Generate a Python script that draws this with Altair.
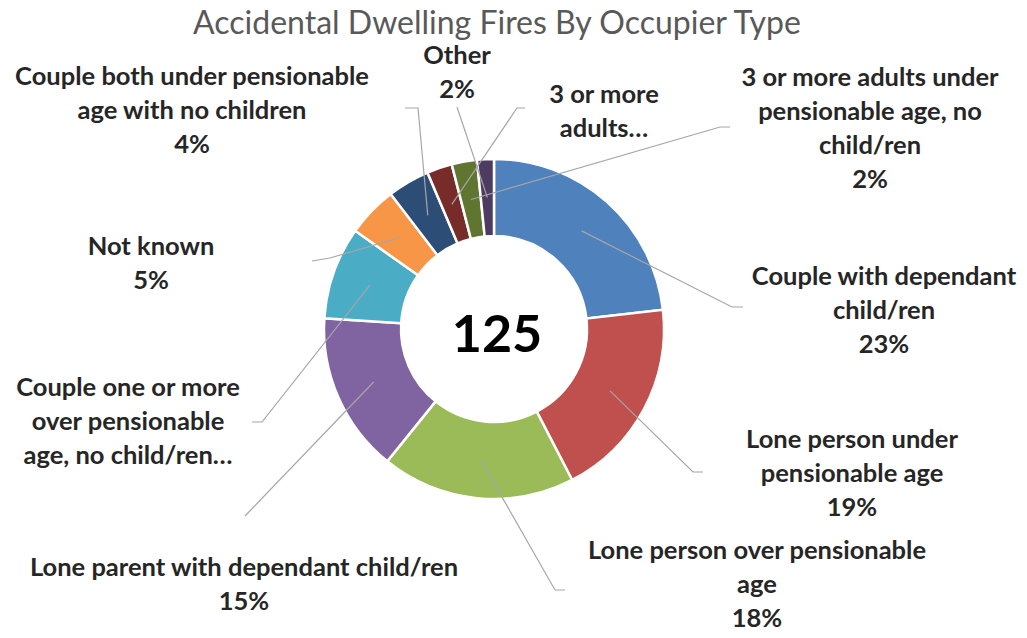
import math
import altair as alt
import pandas as pd

# ---------------- data ----------------
label_lines = [
    ["Couple with dependant", "child/ren"],
    ["Lone person under", "pensionable age"],
    ["Lone person over pensionable", "age"],
    ["Lone parent with dependant child/ren"],
    ["Couple one or more", "over pensionable", "age, no child/ren…"],
    ["Not known"],
    ["Couple both under pensionable", "age with no children"],
    ["3 or more", "adults…"],
    ["3 or more adults under", "pensionable age, no", "child/ren"],
    ["Other"],
]
show_pct = [True, True, True, True, False, True, True, False, True, True]
counts = [29, 24, 23, 19, 11, 6, 5, 3, 3, 2]
colors = ["#4F81BD", "#C0504D", "#9BBB59", "#8064A2", "#4BACC6",
          "#F79646", "#2C4D75", "#772C2A", "#5F7530", "#4D3B62"]
title_text = "Accidental Dwelling Fires By Occupier Type"

# ---------------- layout ----------------
W, H = 1011, 622
CX, CY = 486, 321
R_IN, R_OUT = 93, 170
# centre of the first line of each label
label_pos = [(876, 269), (844, 432), (749, 543), (236, 560), (120, 380),
             (143, 239), (184, 69), (596, 87), (862, 70), (449, 48)]
leader_pts = [
    [(724, 299), (735, 299)],
    [(685, 464), (695, 464)],
    [(547, 582), (557, 582)],
    [(237, 508)],
    [(254, 414), (244, 414)],
    [(322, 250), (304, 253)],
    [(410, 100), (397, 100)],
    [(509, 100), (517, 100)],
    [(712, 119), (722, 119)],
    [(449, 99)],
]

total = sum(counts)
names = [" ".join(l) for l in label_lines]

arc_df = pd.DataFrame({"cat": names, "count": counts, "idx": list(range(len(counts)))})

texts = []
for lines, c, sp in zip(label_lines, counts, show_pct):
    t = list(lines)
    if sp:
        t.append(f"{round(100 * c / total)}%")
    texts.append("\n".join(t))
lab_df = pd.DataFrame({
    "x": [p[0] for p in label_pos],
    "y": [p[1] for p in label_pos],
    "t": texts,
})

rows = []
cum = 0
r_mid = (R_IN + R_OUT) / 2
for i, c in enumerate(counts):
    mid = (cum + c / 2) / total * 2 * math.pi
    cum += c
    ax = CX + r_mid * math.sin(mid)
    ay = CY - r_mid * math.cos(mid)
    pts = [(ax, ay)] + leader_pts[i]
    for s, (px, py) in enumerate(pts):
        rows.append({"g": i, "s": s, "x": px, "y": py})
line_df = pd.DataFrame(rows)

arcs = alt.Chart(arc_df).mark_arc(
    innerRadius=R_IN, outerRadius=R_OUT, stroke="white", strokeWidth=2.5
).encode(
    theta=alt.Theta("count:Q", stack=True),
    color=alt.Color("cat:N", scale=alt.Scale(domain=names, range=colors), legend=None),
    order=alt.Order("idx:Q"),
    x=alt.value(CX),
    y=alt.value(CY),
)

leaders = alt.Chart(line_df).mark_line(color="#A6A6A6", strokeWidth=1.2).encode(
    x=alt.X("x:Q", scale=None, axis=None),
    y=alt.Y("y:Q", scale=None, axis=None),
    detail="g:N",
    order="s:Q",
)

labels = alt.Chart(lab_df).mark_text(
    font="Lato", fontWeight="bold", fontSize=25.5, color="#262626",
    align="center", baseline="middle", lineBreak="\n", lineHeight=34,
).encode(
    x=alt.X("x:Q", scale=None, axis=None),
    y=alt.Y("y:Q", scale=None, axis=None),
    text="t:N",
)

center = alt.Chart(pd.DataFrame({"v": [str(total)]})).mark_text(
    font="Lato", fontWeight="bold", fontSize=52, color="#000000",
    align="center", baseline="middle",
).encode(x=alt.value(CX + 3), y=alt.value(CY + 7), text="v:N")

title = alt.Chart(pd.DataFrame({"v": [title_text]})).mark_text(
    font="Lato", fontSize=32, color="#595959", align="center", baseline="alphabetic",
).encode(x=alt.value(489), y=alt.value(26), text="v:N")

chart = alt.layer(arcs, leaders, labels, center, title).properties(
    width=W, height=H, autosize=alt.AutoSizeParams(type="none"), padding=0,
).configure_view(strokeWidth=0)

chart.save("out.html", embed_options={"renderer": "svg", "actions": False})
